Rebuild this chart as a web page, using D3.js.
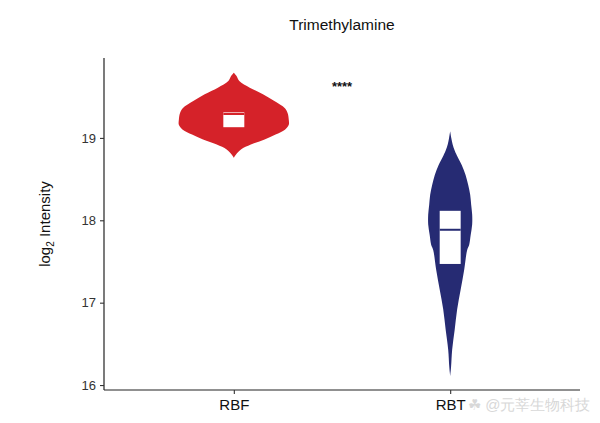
<!DOCTYPE html>
<html><head><meta charset="utf-8">
<script src="https://cdn.jsdelivr.net/npm/d3@7"></script>
<style>body{margin:0;background:#fff}svg{display:block}text{font-family:"Liberation Sans",Arial,sans-serif}</style>
</head><body><svg id="c" width="600" height="423"></svg>
<script>
const title = "Trimethylamine";
const categories = ["RBF", "RBT"];
const yTicks = [16, 17, 18, 19];
const colors = ["#d52229", "#262b73"];
// violin density profiles: value, relative density
const rbfValues  = [19.79,19.75,19.69,19.61,19.53,19.45,19.36,19.30,19.22,19.16,19.10,19.04,18.98,18.92,18.86,18.80,18.76];
const rbfDensity = [0,0.05,0.10,0.29,0.53,0.73,0.93,0.98,1.0,1.0,0.93,0.76,0.56,0.31,0.13,0.04,0];
const rbtValues  = [19.08,19.0,18.92,18.85,18.79,18.67,18.55,18.43,18.31,18.19,18.07,17.95,17.82,17.70,17.64,17.40,17.16,16.92,16.67,16.43,16.22,16.11];
const rbtDensity = [0,0.02,0.045,0.08,0.12,0.21,0.28,0.327,0.364,0.382,0.40,0.40,0.373,0.345,0.309,0.255,0.191,0.127,0.082,0.036,0.016,0];
// box stats: q1, median, q3
const boxQ1 = [19.13, 17.47];
const boxMedian = [19.29, 17.885];
const boxQ3 = [19.31, 18.115];
const sigLabel = "****";
const sigValue = 19.64;

(function () {
const svg = d3.select("#c");
const mLeft = 104, mRight = 580, mTop = 58, mBottom = 390;
const y = d3.scaleLinear().domain([15.94, 19.97]).range([mBottom, mTop]);
const x = d3.scaleLinear().domain([0.4, 2.6]).range([mLeft, mRight]);
const maxHalf = 0.254; // category units for density 1
const boxHalf = 0.0485;

const violins = [
  {vals: rbfValues, dens: rbfDensity},
  {vals: rbtValues, dens: rbtDensity}
];
violins.forEach((v, i) => {
  const c = i + 1;
  const pts = v.vals.map((val, k) => ({val, d: v.dens[k]}));
  const area = d3.area()
    .y(d => y(d.val))
    .x0(d => x(c - d.d * maxHalf))
    .x1(d => x(c + d.d * maxHalf))
    .curve(d3.curveCatmullRom);
  svg.append("path").attr("d", area(pts)).attr("fill", colors[i]);
  svg.append("rect")
    .attr("x", x(c - boxHalf)).attr("width", x(c + boxHalf) - x(c - boxHalf))
    .attr("y", y(boxQ3[i])).attr("height", y(boxQ1[i]) - y(boxQ3[i]))
    .attr("fill", "#fff");
  svg.append("line")
    .attr("x1", x(c - boxHalf)).attr("x2", x(c + boxHalf))
    .attr("y1", y(boxMedian[i])).attr("y2", y(boxMedian[i]))
    .attr("stroke", colors[i]).attr("stroke-width", 2);
});

// axes
const yAxis = svg.append("g").attr("transform", `translate(${mLeft},0)`)
  .call(d3.axisLeft(y).tickValues(yTicks).tickFormat(d3.format("d")).tickSize(4).tickPadding(4));
const xAxis = svg.append("g").attr("transform", `translate(0,${mBottom})`)
  .call(d3.axisBottom(x).tickValues([1, 2]).tickFormat((d) => categories[d - 1]).tickSize(4).tickPadding(5));
yAxis.select(".domain").attr("d", `M0,${mTop}V${mBottom}`);
xAxis.select(".domain").attr("d", `M${mLeft},0H${mRight}`);
[yAxis, xAxis].forEach(g => {
  g.selectAll(".domain").attr("stroke", "#222").attr("stroke-width", 1.2);
  g.selectAll(".tick line").attr("stroke", "#333").attr("stroke-width", 1.1);
});
yAxis.selectAll("text").attr("font-size", 13).attr("fill", "#333").attr("font-family", "Liberation Sans, Arial, sans-serif");
xAxis.selectAll("text").attr("font-size", 15).attr("fill", "#111").attr("font-family", "Liberation Sans, Arial, sans-serif");

// title
svg.append("text").attr("x", (mLeft + mRight) / 2).attr("y", 30).attr("text-anchor", "middle")
  .attr("font-size", 15.5).attr("fill", "#111").text(title);
// y label
const yl = svg.append("text").attr("transform", `translate(50,${(mTop + mBottom) / 2}) rotate(-90)`)
  .attr("text-anchor", "middle").attr("font-size", 15).attr("fill", "#111");
yl.append("tspan").text("log");
yl.append("tspan").attr("font-size", 10).attr("dy", 4).text("2");
yl.append("tspan").attr("dy", -4).text(" Intensity");
// significance
svg.append("text").attr("x", (mLeft + mRight) / 2).attr("y", y(sigValue) + 6).attr("text-anchor", "middle")
  .attr("font-size", 13).attr("font-weight", "bold").attr("fill", "#111").text(sigLabel);
// watermark
svg.append("text").attr("x", 468).attr("y", 410).attr("font-size", 15).attr("fill", "#d8d8d8")
  .attr("font-family", "Noto Sans CJK SC, sans-serif").text("\u2618 @元莘生物科技");
})();
</script></body></html>
